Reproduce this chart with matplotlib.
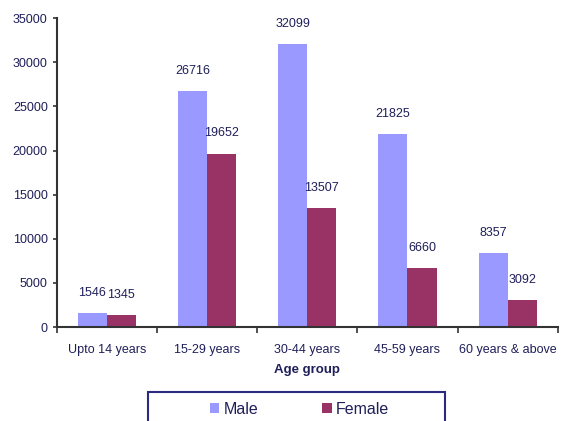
import numpy as np
import matplotlib
matplotlib.use("Agg")
import matplotlib.pyplot as plt
from matplotlib.patches import Rectangle

# Data
categories = ["Upto 14 years", "15-29 years", "30-44 years", "45-59 years", "60 years & above"]
male = [1546, 26716, 32099, 21825, 8357]
female = [1345, 19652, 13507, 6660, 3092]

navy = "#1f1f5a"
plt.rcParams["font.family"] = ["Liberation Sans", "DejaVu Sans"]

fig = plt.figure(figsize=(5.68, 4.21), dpi=100)
ax = fig.add_axes([0.100, 0.223, 0.882, 0.734])

x = np.arange(len(categories))
w = 0.29
b1 = ax.bar(x - w / 2, male, w, color="#9999FF", label="Male")
b2 = ax.bar(x + w / 2, female, w, color="#993366", label="Female")

for bars in (b1, b2):
    for r in bars:
        ax.text(r.get_x() + r.get_width() / 2, r.get_height() + 1600,
                str(int(r.get_height())), ha="center", va="bottom",
                fontsize=9, color=navy)

ax.set_xlim(-0.5, len(categories) - 0.5)
ax.set_ylim(0, 35000)
ax.set_yticks(range(0, 35001, 5000))
ax.set_xticks(x)
ax.set_xticklabels(categories, fontsize=9, color=navy)
ax.set_xticks(np.arange(-0.5, len(categories), 1), minor=True)
ax.tick_params(axis="x", which="major", length=0, pad=12)
ax.tick_params(axis="x", which="minor", length=4, width=1.2, color="#333333")
ax.tick_params(axis="y", labelsize=9, labelcolor=navy, length=3, width=1.2, color="#333333")
ax.set_xlabel("Age group", fontsize=9.5, fontweight="bold", color=navy, labelpad=6)

for s in ("top", "right"):
    ax.spines[s].set_visible(False)
for s in ("left", "bottom"):
    ax.spines[s].set_color("#333333")
    ax.spines[s].set_linewidth(1.5)

# legend box (cut off by the bottom edge like in the original)
fig.patches.append(Rectangle((148 / 568, -0.02), (445 - 148) / 568, 0.02 + 29 / 421,
                             transform=fig.transFigure, fill=False,
                             edgecolor="#2a2a80", linewidth=1.5))
fig.legend(handles=[b1, b2], loc="center", bbox_to_anchor=(0.527, 0.028),
           ncol=2, fontsize=11.5, frameon=False,
           handlelength=0.6, handleheight=0.6, handletextpad=0.25,
           columnspacing=4.0, labelcolor=navy, borderaxespad=0)

fig.savefig("out.png", dpi=100)
